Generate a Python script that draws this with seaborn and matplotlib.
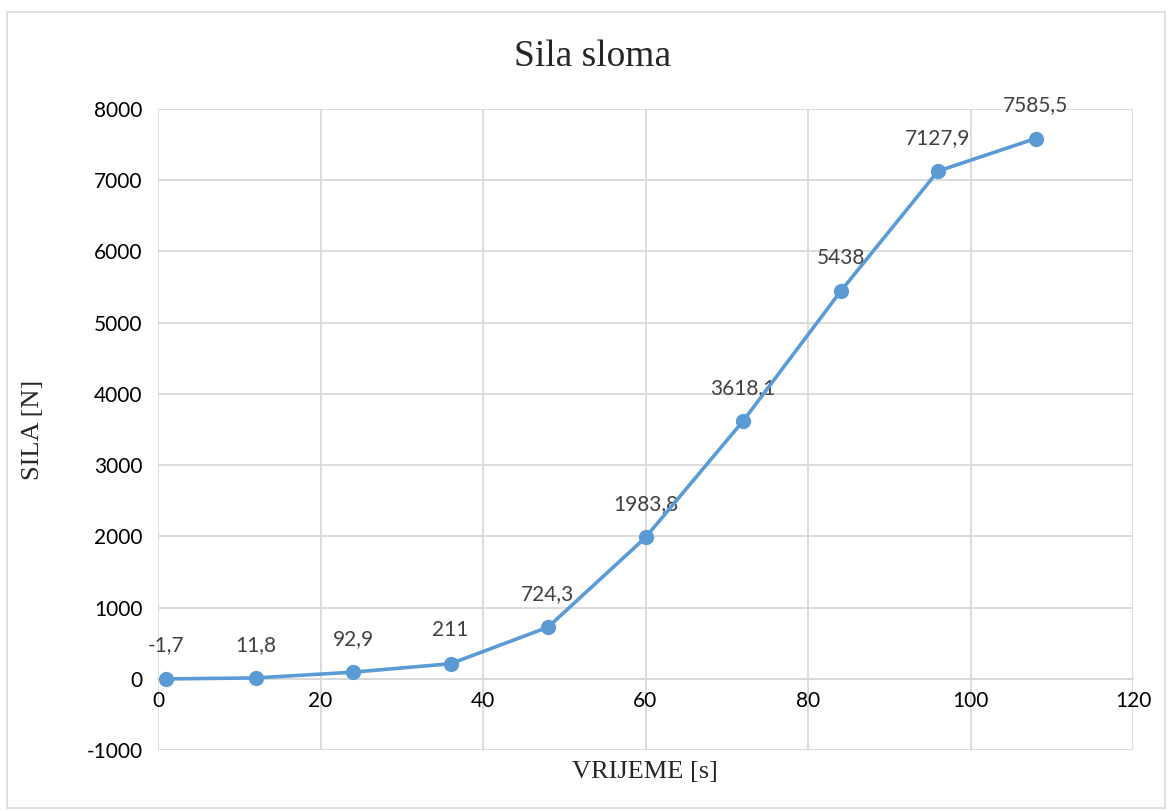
import matplotlib
matplotlib.use("Agg")
import matplotlib.pyplot as plt
import seaborn as sns
import pandas as pd
from matplotlib.patches import Rectangle

time_s = [1, 12, 24, 36, 48, 60, 72, 84, 96, 108]
force_n = [-1.7, 11.8, 92.9, 211, 724.3, 1983.8, 3618.1, 5438, 7127.9, 7585.5]
value_labels = ["-1,7", "11,8", "92,9", "211", "724,3", "1983,8", "3618,1", "5438", "7127,9", "7585,5"]
x_ticks = [0, 20, 40, 60, 80, 100, 120]
y_ticks = [-1000, 0, 1000, 2000, 3000, 4000, 5000, 6000, 7000, 8000]

sns.set_theme(style="white")
plt.rcParams['font.family'] = ['Lato', 'DejaVu Sans']
plt.rcParams['axes.unicode_minus'] = False

df = pd.DataFrame({"t": time_s, "f": force_n})

fig = plt.figure(figsize=(11.69, 8.11), dpi=100)
W, H = 1169, 811
ax = fig.add_axes([158 / W, (H - 750) / H, (1133 - 158) / W, (750 - 109) / H])

grid_c = "#d9d9d9"
line_c = "#5B9BD5"

sns.lineplot(data=df, x="t", y="f", ax=ax, color=line_c, linewidth=2.6,
             marker="o", markersize=11, markeredgewidth=0, zorder=5)

ax.set_xlim(0, 120)
ax.set_ylim(-1000, 8000)
ax.set_xticks(x_ticks)
ax.set_yticks(y_ticks)
ax.grid(True, color=grid_c, linewidth=1.3)
ax.set_axisbelow(True)
for s in ["top", "right", "left"]:
    ax.spines[s].set_visible(False)
ax.spines["bottom"].set_position(("data", 0))
ax.spines["bottom"].set_color(grid_c)
ax.spines["bottom"].set_linewidth(1.3)
ax.tick_params(axis="both", length=0, labelsize=15, labelcolor="#000000")
ax.tick_params(axis="x", pad=9)
ax.tick_params(axis="y", pad=11)

for x, y, lab in zip(time_s, force_n, value_labels):
    ax.annotate(lab, (x, y), xytext=(0, 24), textcoords="offset points",
                ha="center", va="center", fontsize=15, color="#404040")

ax.set_xlabel("")
ax.set_ylabel("")
fig.text(645 / W, 1 - 772 / H, "VRIJEME [s]", family="Liberation Serif", fontsize=19,
         ha="center", va="center")
fig.text(33 / W, 1 - 430 / H, "SILA [N]", family="Liberation Serif", fontsize=19,
         ha="center", va="center", rotation=90)
fig.text(593 / W, 1 - 57 / H, "Sila sloma", family="Liberation Serif", fontsize=27,
         ha="center", va="center")

fig.patches.append(Rectangle((7 / W, 1 - 808 / H), (1165 - 7) / W, (808 - 12) / H,
                             transform=fig.transFigure, fill=False,
                             edgecolor="#d9d9d9", linewidth=1.2))

fig.savefig("out.png", dpi=100)
